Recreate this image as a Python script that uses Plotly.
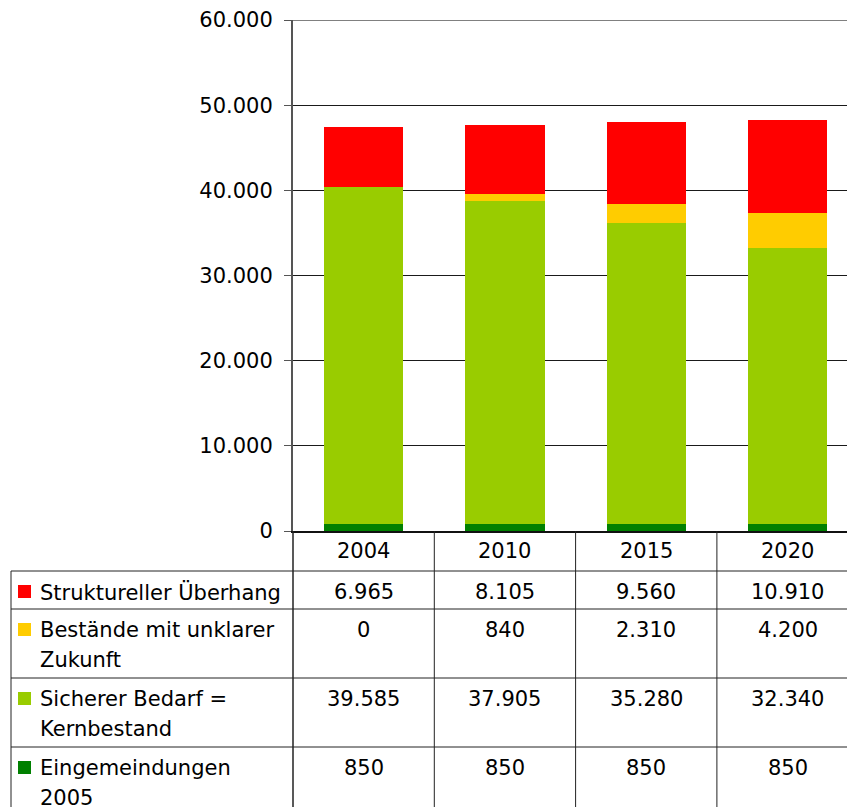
import plotly.graph_objects as go

# Source data
years = ["2004", "2010", "2015", "2020"]
eingemeindungen = [850, 850, 850, 850]
sicherer_bedarf = [39585, 37905, 35280, 32340]
unklare_zukunft = [0, 840, 2310, 4200]
struktureller_ueberhang = [6965, 8105, 9560, 10910]

# Stack order bottom -> top
series = [
    ("Eingemeindungen 2005", ["Eingemeindungen", "2005"], eingemeindungen, "#008000"),
    ("Sicherer Bedarf = Kernbestand", ["Sicherer Bedarf =", "Kernbestand"], sicherer_bedarf, "#99CC00"),
    ("Bestände mit unklarer Zukunft", ["Bestände mit unklarer", "Zukunft"], unklare_zukunft, "#FFCC00"),
    ("Struktureller Überhang", ["Struktureller Überhang"], struktureller_ueberhang, "#FF0000"),
]

y_ticks = [0, 10000, 20000, 30000, 40000, 50000, 60000]

FONT = "DejaVu Sans"
FS = 21
W, H = 847, 807
L, R, T, B = 293, 0, 20, 276
PW, PH = W - L - R, H - T - B
COL_W = 141.3                      # one category slot in px
X0 = -0.5
X1 = X0 + PW / COL_W


def px_x(px):
    return (px - L) / PW


def px_y(py):
    return (H - B - py) / PH


def cat_x(v):
    return (v - X0) / (X1 - X0)


def de(n):
    return f"{n:,}".replace(",", ".")


fig = go.Figure()
for name, _, vals, color in series:
    fig.add_trace(go.Bar(
        x=years, y=vals, name=name, marker=dict(color=color, line=dict(width=0)),
        width=0.56, showlegend=False,
    ))

shapes = []
annotations = []
line_col = "#222222"

# top border at 60.000
shapes.append(dict(type="line", xref="paper", yref="y", x0=0, x1=1, y0=60000, y1=60000,
                   line=dict(color="#808080", width=2)))

# data table grid
row_tops = [571, 609, 678, 747]
for yt in row_tops:
    shapes.append(dict(type="line", xref="paper", yref="paper", x0=px_x(11), x1=1,
                       y0=px_y(yt), y1=px_y(yt), line=dict(color=line_col, width=1)))
for i in range(len(years) + 1):
    xb = cat_x(i - 0.5)
    if xb > 1:
        continue
    shapes.append(dict(type="line", xref="paper", yref="paper", x0=xb, x1=xb,
                       y0=0, y1=px_y(H), line=dict(color=line_col, width=1.5 if i == 0 else 1)))
shapes.append(dict(type="line", xref="paper", yref="paper", x0=px_x(11), x1=px_x(11),
                   y0=px_y(row_tops[0]), y1=px_y(H), line=dict(color=line_col, width=1)))

# year header
for i, yr in enumerate(years):
    annotations.append(dict(x=cat_x(i), y=px_y(551), xref="paper", yref="paper", text=yr,
                            showarrow=False, xanchor="center", yanchor="middle",
                            font=dict(family=FONT, size=FS, color="black")))

# table rows (top -> bottom = reverse stack order)
for r, (name, lines, vals, color) in enumerate(reversed(series)):
    top = row_tops[r]
    first = top + 21
    # legend key
    shapes.append(dict(type="rect", xref="paper", yref="paper",
                       x0=px_x(18), x1=px_x(31), y0=px_y(first - 7), y1=px_y(first + 6),
                       fillcolor=color, line=dict(width=0)))
    for k, txt in enumerate(lines):
        annotations.append(dict(x=px_x(38), y=px_y(first + 30 * k), xref="paper", yref="paper",
                                text=txt, showarrow=False, xanchor="left", yanchor="middle",
                                font=dict(family=FONT, size=FS, color="black")))
    for i, v in enumerate(vals):
        annotations.append(dict(x=cat_x(i), y=px_y(first), xref="paper", yref="paper",
                                text=de(v), showarrow=False, xanchor="center", yanchor="middle",
                                font=dict(family=FONT, size=FS, color="black")))

fig.update_layout(
    width=W, height=H,
    margin=dict(l=L, r=R, t=T, b=B, pad=0),
    paper_bgcolor="white", plot_bgcolor="white",
    barmode="stack",
    separators=",.",
    shapes=shapes,
    annotations=annotations,
    xaxis=dict(range=[X0, X1], showticklabels=False, showgrid=False, zeroline=False,
               showline=True, linecolor="#111111", linewidth=2, ticks="", fixedrange=True),
    yaxis=dict(range=[0, 60000], tickvals=y_ticks, tickformat=",d",
               showgrid=True, gridcolor="#1a1a1a", gridwidth=1, zeroline=False,
               showline=True, linecolor="#555555", linewidth=2,
               ticks="outside", ticklen=7, tickcolor="#555555", tickwidth=1,
               ticklabelstandoff=7,
               tickfont=dict(family=FONT, size=FS, color="black")),
)

fig.write_html("out.html")
